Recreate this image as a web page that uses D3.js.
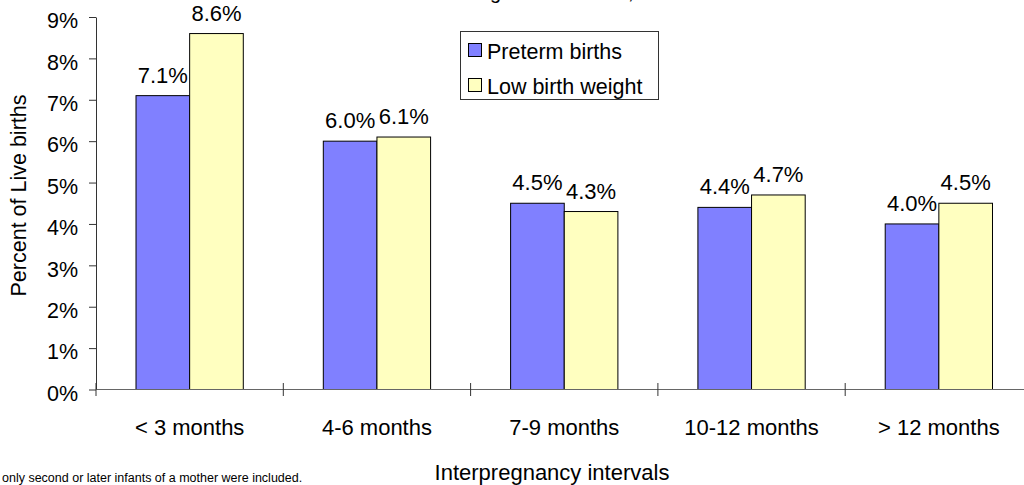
<!DOCTYPE html>
<html>
<head>
<meta charset="utf-8">
<script src="https://cdn.jsdelivr.net/npm/d3@7"></script>
<style>
  html, body { margin: 0; padding: 0; background: #fff; }
  svg { display: block; }
  text { font-family: "Liberation Sans", Arial, sans-serif; fill: #000; }
</style>
</head>
<body>
<svg id="chart" width="1024" height="485"></svg>
<script>
// ---- data ----
const categories = ["< 3 months", "4-6 months", "7-9 months", "10-12 months", "> 12 months"];
const seriesNames = ["Preterm births", "Low birth weight"];
const pretermValues = [7.1, 6.0, 4.5, 4.4, 4.0];
const lowWeightValues = [8.6, 6.1, 4.3, 4.7, 4.5];
const yTicks = [0, 1, 2, 3, 4, 5, 6, 7, 8, 9];
const seriesColors = ["#8080ff", "#ffffc0"];
const titleText = "Preterm Births and Low Birth Weight and Interval, 2005";
const xTitle = "Interpregnancy intervals";
const yTitle = "Percent of Live births";
const footnote = "only second or later infants of a mother were included.";

const seriesValues = [pretermValues, lowWeightValues];

// ---- layout ----
const svg = d3.select("#chart");
const plotLeft = 96, plotTop = 17, plotBottom = 389.5;
const bandW = 187.3;
const plotRight = plotLeft + bandW * categories.length;

const x0 = d3.scaleBand().domain(categories).range([plotLeft, plotRight]).padding(0);
const x1 = d3.scaleBand().domain(seriesNames)
  .range([x0.bandwidth() * 0.2136, x0.bandwidth() * 0.7864]).padding(0);
const y = d3.scaleLinear().domain([0, 9]).range([plotBottom, plotTop]);

// ---- title (cut off by the top edge; only descenders show) ----
const title = svg.append("text")
  .attr("x", 0).attr("y", -1)
  .style("font-size", "26px")
  .text(titleText);
try {
  const n = title.node();
  const gi = titleText.indexOf("g");
  const ci = titleText.indexOf(",");
  const gx = n.getStartPositionOfChar(gi).x;
  const cx = n.getStartPositionOfChar(ci).x;
  const fs = 26 * 138 / (cx - gx);
  title.style("font-size", fs + "px");
  const gx2 = n.getStartPositionOfChar(gi).x;
  title.attr("x", 490 - gx2);
} catch (e) { title.attr("x", 230); }

// ---- y axis ----
const yAxis = svg.append("g")
  .attr("transform", `translate(${plotLeft},0)`)
  .call(d3.axisLeft(y).tickValues(yTicks).tickFormat(d => d + "%").tickSize(7).tickSizeOuter(0).tickPadding(11));
yAxis.select(".domain").attr("stroke", "#333");
yAxis.selectAll(".tick line").attr("stroke", "#333");
yAxis.selectAll(".tick text")
  .attr("dy", "0.5em")
  .style("font-size", "21.5px")
  .style("font-family", "'Liberation Sans', Arial, sans-serif")
  .attr("fill", "#000");

// ---- bars ----
const groups = svg.append("g").selectAll("g")
  .data(categories)
  .join("g")
  .attr("transform", d => `translate(${x0(d)},0)`);

groups.selectAll("rect")
  .data((c, i) => seriesNames.map((s, k) => ({ s, k, v: seriesValues[k][i] })))
  .join("rect")
  .attr("x", d => x1(d.s))
  .attr("y", d => y(d.v))
  .attr("width", x1.bandwidth())
  .attr("height", d => y(0) - y(d.v))
  .attr("fill", d => seriesColors[d.k])
  .attr("stroke", "#000")
  .attr("stroke-width", 1);

groups.selectAll("text.lbl")
  .data((c, i) => seriesNames.map((s, k) => ({ s, k, v: seriesValues[k][i] })))
  .join("text")
  .attr("class", "lbl")
  .attr("x", d => x1(d.s) + x1.bandwidth() / 2)
  .attr("y", d => y(d.v) - 13)
  .attr("text-anchor", "middle")
  .style("font-size", "22px")
  .text(d => d.v.toFixed(1) + "%");

// ---- x axis ----
const xAxisG = svg.append("g");
xAxisG.append("line")
  .attr("x1", plotLeft).attr("x2", plotRight)
  .attr("y1", y(0)).attr("y2", y(0))
  .attr("stroke", "#666").attr("stroke-width", 1);
const boundaries = categories.map(c => x0(c)).concat([plotRight]);
xAxisG.selectAll("line.tk")
  .data(boundaries)
  .join("line")
  .attr("class", "tk")
  .attr("x1", d => d).attr("x2", d => d)
  .attr("y1", y(0) - 6.5).attr("y2", y(0) + 6.5)
  .attr("stroke", "#333");
xAxisG.selectAll("text.cat")
  .data(categories)
  .join("text")
  .attr("class", "cat")
  .attr("x", d => x0(d) + x0.bandwidth() / 2)
  .attr("y", y(0) + 45.5)
  .attr("text-anchor", "middle")
  .style("font-size", "22px")
  .text(d => d);

// ---- axis titles ----
svg.append("text")
  .attr("x", 552).attr("y", 480)
  .attr("text-anchor", "middle")
  .style("font-size", "22px")
  .text(xTitle);

svg.append("text")
  .attr("transform", "translate(26,195.5) rotate(-90)")
  .attr("text-anchor", "middle")
  .style("font-size", "21.5px")
  .text(yTitle);

// ---- legend ----
const legend = svg.append("g");
legend.append("rect")
  .attr("x", 460.5).attr("y", 31.5)
  .attr("width", 198).attr("height", 68)
  .attr("fill", "#fff").attr("stroke", "#333").attr("stroke-width", 1);
const legendItems = legend.selectAll("g.item")
  .data(seriesNames)
  .join("g")
  .attr("class", "item")
  .attr("transform", (d, i) => `translate(468,${43 + i * 35})`);
legendItems.append("rect")
  .attr("x", 0.5).attr("y", 0.5)
  .attr("width", 13).attr("height", 13)
  .attr("fill", (d, i) => seriesColors[i])
  .attr("stroke", "#000");
legendItems.append("text")
  .attr("x", 19).attr("y", 16)
  .style("font-size", "21.5px")
  .text(d => d);

// ---- footnote ----
svg.append("text")
  .attr("x", 2).attr("y", 482)
  .style("font-size", "12.5px")
  .text(footnote);
</script>
</body>
</html>
